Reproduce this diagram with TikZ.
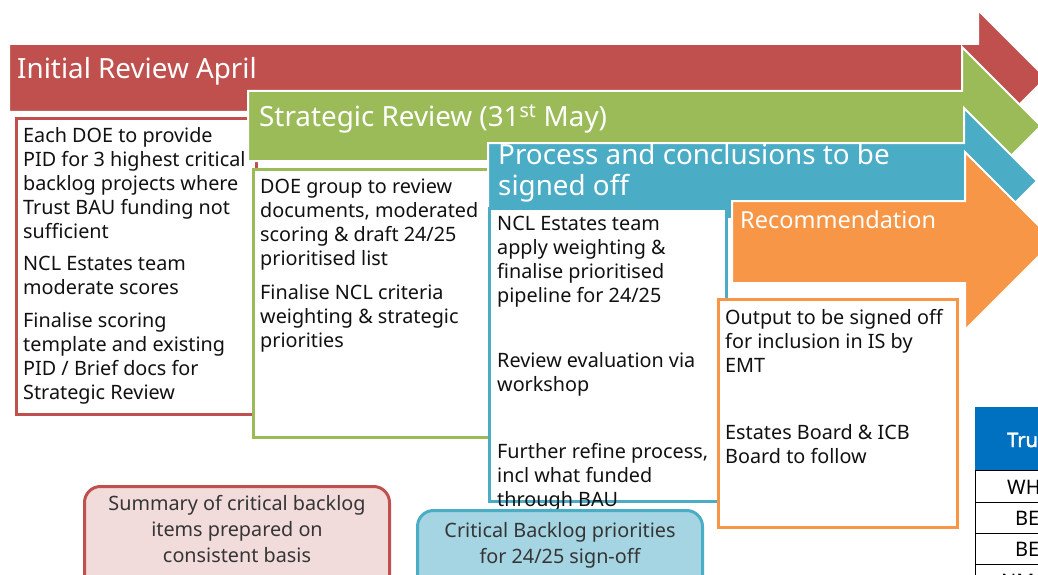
\documentclass[tikz,border=0pt]{standalone}
\usepackage{fontspec}
\setmainfont{Noto Sans}
\newfontfamily\headfont[FakeBold=2]{Noto Sans}
\definecolor{cRed}{HTML}{C0504D}
\definecolor{cGreen}{HTML}{9BBB59}
\definecolor{cBlue}{HTML}{4BACC6}
\definecolor{cOrange}{HTML}{F79646}
\definecolor{cPink}{HTML}{F2DCDB}
\definecolor{cLightBlue}{HTML}{A5D5E2}
\definecolor{cNavy}{HTML}{0070C0}
\definecolor{cInk}{HTML}{111111}
\begin{document}
\begin{tikzpicture}[x=1pt,y=-1pt,
  stagearrow/.style={draw=white,line width=2pt,line join=miter},
  stagebox/.style={fill=white,line width=3pt},
  title/.style={text=white,inner sep=0pt,anchor=base west,font=\fontsize{27.8}{32}\selectfont,align=left},
  bodytext/.style={text=cInk,inner sep=0pt,anchor=north west,align=left,font=\fontsize{19.8}{24}\selectfont},
  summary/.style={rounded corners=16pt,line width=3pt},
  summarytext/.style={text=cInk!85,inner sep=0pt,anchor=north,align=center,font=\fontsize{19.8}{26}\selectfont},
  tablecell/.style={draw=black,line width=0.8pt},
  celltext/.style={inner sep=0pt,anchor=base west,font=\fontsize{20}{24}\selectfont}
]
\useasboundingbox (0,0) rectangle (1038,575);
\clip (0,0) rectangle (1038,575);

% ---- Stage 1: initial review ----
\fill[cRed,stagearrow] (9,44) -- (978,44) -- (978,10) -- (1046,78) -- (978,146) -- (978,112) -- (9,112) -- cycle;
\node[title] (t1) at (17,79) {Initial Review April};
\draw[stagebox,draw=cRed] (16.5,118.5) rectangle (256,414);
\node[bodytext] (r1) at (23,127) {Each DOE to provide\\PID for 3 highest critical\\backlog projects where\\Trust BAU funding not\\sufficient};
\node[bodytext] (r2) at (23,256) {NCL Estates team\\moderate scores};
\node[bodytext] (r3) at (23,312) {Finalise scoring\\template and existing\\PID / Brief docs for\\Strategic Review};

% ---- Stage 2: strategic review ----
\fill[cGreen,stagearrow] (248,91) -- (962,91) -- (962,47) -- (1041,126) -- (962,205) -- (962,161) -- (248,161) -- cycle;
\node[title] (t2) at (259,127) {Strategic Review (31\textsuperscript{st} May)};
\draw[stagebox,draw=cGreen] (253,169.5) rectangle (492,437);
\node[bodytext] (g1) at (260,179) {DOE group to review\\documents, moderated\\scoring \& draft 24/25\\prioritised list};
\node[bodytext] (g2) at (260,284) {Finalise NCL criteria\\weighting \& strategic\\priorities};

% ---- Stage 3: sign-off ----
\fill[cBlue,stagearrow] (488,143) -- (964,143) -- (964,108) -- (1037,181) -- (964,254) -- (964,219) -- (488,219) -- cycle;
\node[title,anchor=north west] (t3) at (498,143) {Process and conclusions to be\\[-1pt]signed off};
\draw[stagebox,draw=cBlue] (489.5,208.5) rectangle (726,501);
\node[bodytext] (b1) at (497,216) {NCL Estates team\\apply weighting \&\\finalise prioritised\\pipeline for 24/25};
\node[bodytext] (b2) at (497,352) {Review evaluation via\\workshop};
\node[bodytext] (b3) at (497,443) {Further refine process,\\incl what funded\\through BAU};

% ---- Stage 4: recommendation ----
\fill[cOrange,stagearrow] (732,201) -- (965,201) -- (965,152) -- (1054,241) -- (965,330) -- (965,283) -- (732,283) -- cycle;
\node[title,font=\fontsize{23.5}{28}\selectfont] (t4) at (740,228) {Recommendation};
\draw[stagebox,draw=cOrange] (718,299.5) rectangle (957,527);
\node[bodytext] (o1) at (725,309) {Output to be signed off\\for inclusion in IS by\\EMT};
\node[bodytext] (o2) at (725,424) {Estates Board \& ICB\\Board to follow};

% ---- Outcome call-outs ----
\draw[summary,draw=cRed,fill=cPink] (84.5,486.5) rectangle (389.5,600);
\node[summarytext] (s1) at (237,495) {Summary of critical backlog\\items prepared on\\consistent basis};
\draw[summary,draw=cBlue,fill=cLightBlue] (417.5,510.5) rectangle (702.5,600);
\node[summarytext] (s2) at (560,522) {Critical Backlog priorities\\for 24/25 sign-off};

% ---- Trust table ----
\fill[cNavy] (975,407) rectangle (1050,470);
\draw[tablecell] (975,470) rectangle (1050,502);
\draw[tablecell] (975,502) rectangle (1050,533);
\draw[tablecell] (975,533) rectangle (1050,564);
\draw[tablecell] (975,564) rectangle (1050,600);
\node[celltext,text=white,font=\fontsize{20}{24}\headfont] (h1) at (1007,447) {Tru};
\node[celltext] (c1) at (1007,494) {WH};
\node[celltext] (c2) at (1015,525) {BE};
\node[celltext] (c3) at (1015,556) {BE};
\node[celltext] (c4) at (1001,588) {NM};
\end{tikzpicture}
\end{document}
